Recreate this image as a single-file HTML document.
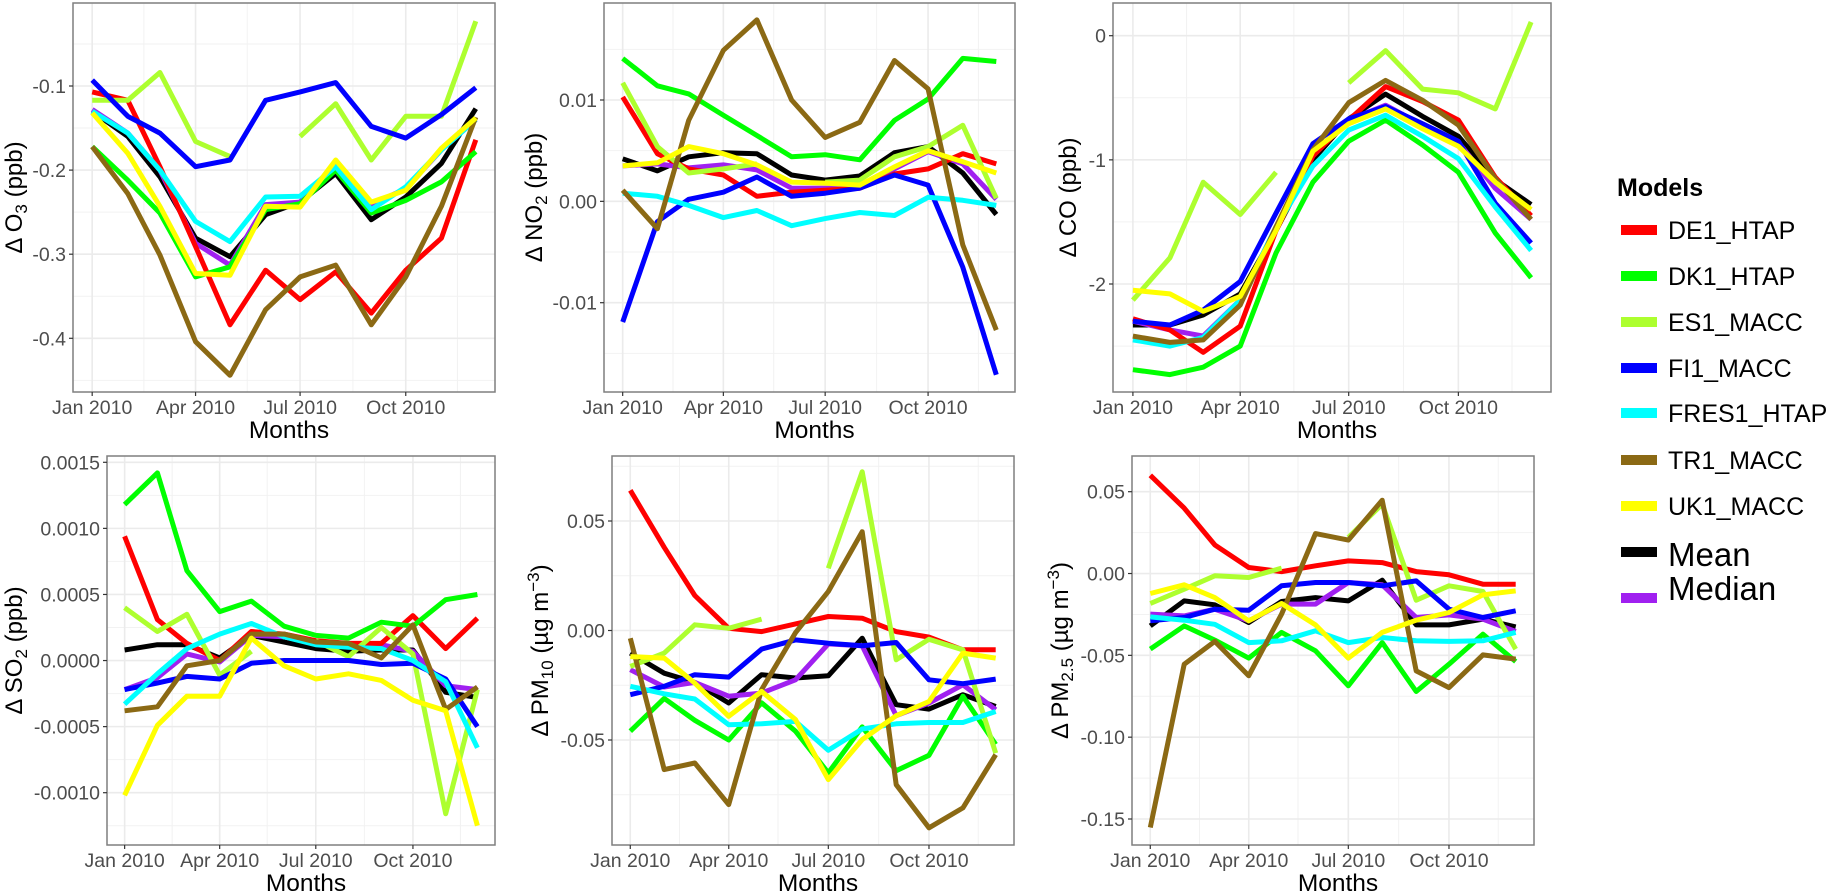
<!DOCTYPE html>
<html><head><meta charset="utf-8"><title>Model deltas</title>
<style>
html,body{margin:0;padding:0;background:#fff;}
svg{display:block;font-family:"Liberation Sans",Arial,sans-serif;}
</style></head>
<body>
<svg id="chart" width="1832" height="893" viewBox="0 0 1832 893" xmlns="http://www.w3.org/2000/svg">
<rect x="0" y="0" width="1832" height="893" fill="#fff"/>
<g id="panels"></g>
<g id="legend">
  <text x="1617" y="196" font-size="25" font-weight="bold" fill="#000">Models</text>
</g>
</svg>
<script>
const MONTHS = ["Jan","Feb","Mar","Apr","May","Jun","Jul","Aug","Sep","Oct","Nov","Dec"];
const MONTH_DAYS = [0,31,59,90,120,151,181,212,243,273,304,334];
const X_TICK_LABELS = ["Jan 2010","Apr 2010","Jul 2010","Oct 2010"];
const X_TICK_DAYS = [0,90,181,273];
const SERIES_NAMES = ["DE1_HTAP","DK1_HTAP","ES1_MACC","FI1_MACC","FRES1_HTAP","TR1_MACC","UK1_MACC","Mean","Median"];

// O3
const O3_DE1 = [-0.107,-0.117,-0.196,-0.291,-0.384,-0.319,-0.354,-0.321,-0.370,-0.319,-0.281,-0.164];
const O3_DK1 = [-0.172,-0.212,-0.251,-0.327,-0.315,-0.247,-0.240,-0.200,-0.251,-0.236,-0.214,-0.178];
const O3_ES1 = [-0.117,-0.117,-0.084,-0.166,-0.184,null,-0.160,-0.121,-0.188,-0.136,-0.136,-0.023];
const O3_FI1 = [-0.093,-0.136,-0.156,-0.196,-0.188,-0.117,-0.107,-0.096,-0.148,-0.162,-0.134,-0.102];
const O3_FRES1 = [-0.130,-0.156,-0.200,-0.261,-0.285,-0.232,-0.231,-0.196,-0.247,-0.220,-0.176,-0.140];
const O3_TR1 = [-0.172,-0.228,-0.301,-0.404,-0.444,-0.366,-0.327,-0.313,-0.384,-0.327,-0.243,-0.137];
const O3_UK1 = [-0.132,-0.180,-0.243,-0.323,-0.325,-0.243,-0.244,-0.188,-0.238,-0.224,-0.174,-0.138];
const O3_MEAN = [-0.130,-0.160,-0.208,-0.281,-0.303,-0.253,-0.238,-0.204,-0.259,-0.232,-0.192,-0.127];
const O3_MEDIAN = [-0.128,-0.156,-0.200,-0.287,-0.313,-0.241,-0.238,-0.192,-0.241,-0.222,-0.176,-0.140];
const O3_TICKS = [-0.4,-0.3,-0.2,-0.1];
const O3_TICK_LABELS = ["-0.4","-0.3","-0.2","-0.1"];

// NO2
const NO2_DE1 = [0.0103,0.0047,0.0032,0.0026,0.0005,0.0009,0.0011,0.0013,0.0027,0.0032,0.0047,0.0037];
const NO2_DK1 = [0.0141,0.0114,0.0106,0.0085,0.0065,0.0044,0.0046,0.0041,0.0080,0.0101,0.0141,0.0138];
const NO2_ES1 = [0.0117,0.0054,0.0028,0.0032,0.0037,null,0.0019,0.0021,0.0044,0.0054,0.0075,0.0003];
const NO2_FI1 = [-0.0119,-0.0020,0.0002,0.0009,0.0024,0.0005,0.0008,0.0013,0.0026,0.0016,-0.0065,-0.0171];
const NO2_FRES1 = [0.0008,0.0005,-0.0004,-0.0016,-0.0009,-0.0024,-0.0017,-0.0011,-0.0014,0.0004,0.0001,-0.0004];
const NO2_TR1 = [0.0011,-0.0027,0.0080,0.0149,0.0179,0.0100,0.0063,0.0078,0.0139,0.0111,-0.0043,-0.0127];
const NO2_UK1 = [0.0035,0.0038,0.0054,0.0047,0.0036,0.0019,0.0018,0.0016,0.0034,0.0050,0.0039,0.0028];
const NO2_MEAN = [0.0042,0.0030,0.0044,0.0048,0.0047,0.0026,0.0021,0.0025,0.0048,0.0054,0.0028,-0.0013];
const NO2_MEDIAN = [0.0035,0.0037,0.0033,0.0036,0.0031,0.0013,0.0013,0.0014,0.0032,0.0049,0.0037,0.0002];
const NO2_TICKS = [-0.01,0,0.01];
const NO2_TICK_LABELS = ["-0.01","0.00","0.01"];

// CO
const CO_DE1 = [-2.28,-2.37,-2.55,-2.34,-1.57,-0.97,-0.68,-0.41,-0.53,-0.68,-1.14,-1.45];
const CO_DK1 = [-2.69,-2.73,-2.67,-2.50,-1.75,-1.18,-0.85,-0.68,-0.88,-1.10,-1.59,-1.95];
const CO_ES1 = [-2.13,-1.79,-1.18,-1.44,-1.10,null,-0.38,-0.12,-0.43,-0.46,-0.59,0.11];
const CO_FI1 = [-2.30,-2.33,-2.21,-1.98,-1.43,-0.87,-0.67,-0.57,-0.71,-0.85,-1.35,-1.67];
const CO_FRES1 = [-2.45,-2.50,-2.43,-2.13,-1.54,-1.05,-0.76,-0.64,-0.81,-0.99,-1.38,-1.73];
const CO_TR1 = [-2.42,-2.47,-2.45,-2.17,-1.54,-0.92,-0.54,-0.36,-0.52,-0.72,-1.15,-1.48];
const CO_UK1 = [-2.05,-2.08,-2.22,-2.10,-1.57,-0.93,-0.71,-0.59,-0.75,-0.89,-1.18,-1.40];
const CO_MEAN = [-2.33,-2.33,-2.25,-2.08,-1.57,-1.00,-0.67,-0.47,-0.65,-0.81,-1.16,-1.36];
const CO_MEDIAN = [-2.30,-2.37,-2.42,-2.13,-1.54,-0.96,-0.68,-0.56,-0.72,-0.86,-1.23,-1.48];
const CO_TICKS = [-2,-1,0];
const CO_TICK_LABELS = ["-2","-1","0"];

// SO2
const SO2_DE1 = [0.00094,0.00031,0.00013,0.0,0.00022,0.00020,0.00015,0.00013,0.00013,0.00034,0.00009,0.00032];
const SO2_DK1 = [0.00118,0.00142,0.00068,0.00037,0.00045,0.00026,0.00019,0.00017,0.00029,0.00026,0.00046,0.00050];
const SO2_ES1 = [0.00040,0.00022,0.00035,-0.00011,0.00007,null,0.00015,0.00003,0.00025,0.00005,-0.00116,-0.00022];
const SO2_FI1 = [-0.00022,-0.00017,-0.00012,-0.00014,-0.00002,0.0,0.0,0.0,-0.00003,-0.00002,-0.00014,-0.00050];
const SO2_FRES1 = [-0.00033,-0.00010,0.00009,0.00020,0.00028,0.00018,0.00012,0.00010,0.00009,0.0,-0.00016,-0.00066];
const SO2_TR1 = [-0.00038,-0.00035,-0.00004,0.0,0.00020,0.00020,0.00014,0.00013,0.00002,0.00027,-0.00037,-0.00020];
const SO2_UK1 = [-0.00102,-0.00049,-0.00027,-0.00027,0.00017,-0.00004,-0.00014,-0.00010,-0.00015,-0.00030,-0.00038,-0.00125];
const SO2_MEAN = [0.00008,0.00012,0.00012,0.00002,0.00019,0.00014,0.00009,0.00007,0.00008,0.00008,-0.00024,-0.00028];
const SO2_MEDIAN = [-0.00022,-0.00013,0.00005,-0.00001,0.00019,0.00018,0.00013,0.00012,0.00012,0.00007,-0.00019,-0.00022];
const SO2_TICKS = [-0.001,-0.0005,0,0.0005,0.001,0.0015];
const SO2_TICK_LABELS = ["-0.0010","-0.0005","0.0000","0.0005","0.0010","0.0015"];

// PM10
const PM10_DE1 = [0.064,0.038,0.016,0.001,-0.0005,0.003,0.0064,0.0056,-0.0005,-0.003,-0.0088,-0.0088];
const PM10_DK1 = [-0.046,-0.031,-0.041,-0.050,-0.033,-0.046,-0.065,-0.044,-0.064,-0.057,-0.030,-0.052];
const PM10_ES1 = [-0.0164,-0.0103,0.0026,0.001,0.0052,null,0.0284,0.0725,-0.0134,-0.004,-0.0088,-0.056];
const PM10_FI1 = [-0.0293,-0.0255,-0.0202,-0.0213,-0.0085,-0.0043,-0.0058,-0.007,-0.0055,-0.0225,-0.0243,-0.0222];
const PM10_FRES1 = [-0.0255,-0.0289,-0.0313,-0.043,-0.0426,-0.0415,-0.0547,-0.045,-0.0426,-0.042,-0.042,-0.037];
const PM10_TR1 = [-0.0035,-0.0635,-0.0605,-0.0795,-0.027,-0.001,0.0178,0.0451,-0.0704,-0.0901,-0.081,-0.0567];
const PM10_UK1 = [-0.0119,-0.0126,-0.024,-0.0392,-0.0278,-0.0407,-0.0681,-0.0498,-0.0389,-0.0324,-0.0103,-0.0126];
const PM10_MEAN = [-0.0103,-0.0195,-0.0237,-0.0331,-0.0202,-0.0217,-0.0207,-0.0035,-0.0339,-0.0359,-0.0293,-0.0347];
const PM10_MEDIAN = [-0.0179,-0.0258,-0.0237,-0.030,-0.0286,-0.0225,-0.0061,-0.007,-0.0389,-0.0331,-0.0248,-0.0362];
const PM10_TICKS = [-0.05,0,0.05];
const PM10_TICK_LABELS = ["-0.05","0.00","0.05"];

// PM2.5
const PM25_DE1 = [0.060,0.040,0.0175,0.0037,0.0012,0.0047,0.0077,0.0067,0.0012,-0.0008,-0.0065,-0.0065];
const PM25_DK1 = [-0.0462,-0.032,-0.0407,-0.0517,-0.036,-0.0472,-0.0686,-0.0422,-0.0721,-0.0554,-0.0371,-0.0538];
const PM25_ES1 = [-0.0183,-0.0096,-0.0014,-0.0024,0.0033,null,0.022,0.0424,-0.0163,-0.0075,-0.011,-0.0462];
const PM25_FI1 = [-0.0289,-0.0269,-0.0218,-0.0224,-0.0075,-0.0055,-0.0055,-0.0075,-0.0045,-0.0218,-0.0269,-0.0228];
const PM25_FRES1 = [-0.0265,-0.0285,-0.031,-0.0422,-0.0411,-0.035,-0.0422,-0.0391,-0.0411,-0.0415,-0.0411,-0.036];
const PM25_TR1 = [-0.1552,-0.0554,-0.0415,-0.0625,-0.0248,0.0244,0.0204,0.0448,-0.0595,-0.0697,-0.0497,-0.0523];
const PM25_UK1 = [-0.0122,-0.0069,-0.0147,-0.0289,-0.0183,-0.0314,-0.0517,-0.036,-0.0285,-0.0238,-0.013,-0.0106];
const PM25_MEAN = [-0.032,-0.0167,-0.0191,-0.0299,-0.0171,-0.0147,-0.0167,-0.0041,-0.0314,-0.0314,-0.0279,-0.0326];
const PM25_MEDIAN = [-0.0248,-0.0259,-0.0218,-0.0289,-0.0187,-0.0187,-0.0055,-0.0069,-0.0269,-0.0253,-0.0279,-0.0354];
const PM25_TICKS = [-0.15,-0.1,-0.05,0,0.05];
const PM25_TICK_LABELS = ["-0.15","-0.10","-0.05","0.00","0.05"];

const COLORS = ["#FF0000","#00FF00","#ADFF2F","#0000FF","#00FFFF","#8B6914","#FFFF00","#000000","#A020F0"];
const DRAW_ORDER = [7,8,0,1,2,3,4,5,6];

const NS = "http://www.w3.org/2000/svg";
function mk(tag, attrs, parent){
  const e = document.createElementNS(NS, tag);
  for (const k in attrs) e.setAttribute(k, attrs[k]);
  if (parent) parent.appendChild(e);
  return e;
}

const PANELS = [
  {key:"o3", L:73,T:3,R:495,B:392, v1:-0.1,y1:86,v2:-0.4,y2:338.3, ticks:O3_TICKS, labels:O3_TICK_LABELS, titleX:14, species:"O", sub:"3", unit:"ppb", sup:null,
   series:[O3_DE1,O3_DK1,O3_ES1,O3_FI1,O3_FRES1,O3_TR1,O3_UK1,O3_MEAN,O3_MEDIAN]},
  {key:"no2", L:604,T:3,R:1015,B:392, v1:0.01,y1:100,v2:-0.01,y2:302.7, ticks:NO2_TICKS, labels:NO2_TICK_LABELS, titleX:534, species:"NO", sub:"2", unit:"ppb", sup:null,
   series:[NO2_DE1,NO2_DK1,NO2_ES1,NO2_FI1,NO2_FRES1,NO2_TR1,NO2_UK1,NO2_MEAN,NO2_MEDIAN]},
  {key:"co", L:1113,T:3,R:1551,B:392, v1:0,y1:35.7,v2:-2,y2:284, ticks:CO_TICKS, labels:CO_TICK_LABELS, titleX:1068, species:"CO", sub:null, unit:"ppb", sup:null,
   series:[CO_DE1,CO_DK1,CO_ES1,CO_FI1,CO_FRES1,CO_TR1,CO_UK1,CO_MEAN,CO_MEDIAN]},
  {key:"so2", L:107,T:456,R:495,B:845, v1:0.0015,y1:462.3,v2:-0.001,y2:792.7, ticks:SO2_TICKS, labels:SO2_TICK_LABELS, titleX:14, species:"SO", sub:"2", unit:"ppb", sup:null,
   series:[SO2_DE1,SO2_DK1,SO2_ES1,SO2_FI1,SO2_FRES1,SO2_TR1,SO2_UK1,SO2_MEAN,SO2_MEDIAN]},
  {key:"pm10", L:612,T:456,R:1014,B:845, v1:0.05,y1:521,v2:-0.05,y2:740, ticks:PM10_TICKS, labels:PM10_TICK_LABELS, titleX:540, species:"PM", sub:"10", unit:"µg m", sup:"−3",
   series:[PM10_DE1,PM10_DK1,PM10_ES1,PM10_FI1,PM10_FRES1,PM10_TR1,PM10_UK1,PM10_MEAN,PM10_MEDIAN]},
  {key:"pm25", L:1132,T:456,R:1534,B:845, v1:0.05,y1:491.7,v2:-0.15,y2:819, ticks:PM25_TICKS, labels:PM25_TICK_LABELS, titleX:1060, species:"PM", sub:"2.5", unit:"µg m", sup:"−3",
   series:[PM25_DE1,PM25_DK1,PM25_ES1,PM25_FI1,PM25_FRES1,PM25_TR1,PM25_UK1,PM25_MEAN,PM25_MEDIAN]}
];

function xAt(p, day){ return p.L + (day + 16.7) / 367.4 * (p.R - p.L); }
function yAt(p, v){ return p.y1 + (v - p.v1) * (p.y2 - p.y1) / (p.v2 - p.v1); }

const root = document.getElementById("panels");
PANELS.forEach(function(p){
  const g = mk("g", {}, root);
  
  
  mk("rect", {x:p.L, y:p.T, width:p.R-p.L, height:p.B-p.T, fill:"#fff"}, g);
  const clipId = "clip-" + p.key;
  const cp = mk("clipPath", {id:clipId}, g);
  mk("rect", {x:p.L, y:p.T, width:p.R-p.L, height:p.B-p.T}, cp);
  // minor y grid
  const step = p.ticks[1] - p.ticks[0];
  for (let v = p.ticks[0] - step*2.5; v <= p.ticks[p.ticks.length-1] + step*2.5; v += step){
    const y = yAt(p, v);
    if (y > p.T && y < p.B) mk("line", {x1:p.L, x2:p.R, y1:y, y2:y, stroke:"#f2f2f2", "stroke-width":1}, g);
  }
  // minor x grid
  const minorDays = [-45,45,135,227,318];
  minorDays.forEach(function(d){
    const x = xAt(p, d);
    if (x > p.L && x < p.R) mk("line", {x1:x, x2:x, y1:p.T, y2:p.B, stroke:"#f2f2f2", "stroke-width":1}, g);
  });
  // major grid
  p.ticks.forEach(function(v){
    const y = yAt(p, v);
    mk("line", {x1:p.L, x2:p.R, y1:y, y2:y, stroke:"#ebebeb", "stroke-width":1.6}, g);
  });
  X_TICK_DAYS.forEach(function(d){
    const x = xAt(p, d);
    mk("line", {x1:x, x2:x, y1:p.T, y2:p.B, stroke:"#ebebeb", "stroke-width":1.6}, g);
  });
  // series lines
  const lg = mk("g", {"clip-path":"url(#"+clipId+")"}, g);
  DRAW_ORDER.forEach(function(si){
    const data = p.series[si];
    let d = "", pen = false;
    data.forEach(function(v, i){
      if (v === null){ pen = false; return; }
      d += (pen ? "L" : "M") + xAt(p, MONTH_DAYS[i]).toFixed(1) + "," + yAt(p, v).toFixed(1);
      pen = true;
    });
    const path = mk("path", {d:d, fill:"none", stroke:COLORS[si], "stroke-width":5, "stroke-linejoin":"round"}, lg);
    
    
  });
  // border
  mk("rect", {x:p.L, y:p.T, width:p.R-p.L, height:p.B-p.T, fill:"none", stroke:"#7f7f7f", "stroke-width":1.5}, g);
  // y ticks
  p.ticks.forEach(function(v, i){
    const y = yAt(p, v);
    mk("line", {x1:p.L-4, x2:p.L, y1:y, y2:y, stroke:"#333", "stroke-width":1.2}, g);
    const t = mk("text", {x:p.L-7, y:y+7, "text-anchor":"end", "font-size":19.5, fill:"#4d4d4d"}, g);
    t.textContent = p.labels[i];
    
    
  });
  // x ticks
  X_TICK_DAYS.forEach(function(d, i){
    const x = xAt(p, d);
    mk("line", {x1:x, x2:x, y1:p.B, y2:p.B+4, stroke:"#333", "stroke-width":1.2}, g);
    const t = mk("text", {x:x, y:p.B+22, "text-anchor":"middle", "font-size":19.5, fill:"#4d4d4d"}, g);
    t.textContent = X_TICK_LABELS[i];
    
    
  });
  // x title
  const xt = mk("text", {x:(p.L+p.R)/2 + 5, y:p.B+46, "text-anchor":"middle", "font-size":24.5, fill:"#000"}, g);
  xt.textContent = "Months";
  
  
  // y title
  const cy = (p.T + p.B) / 2;
  const yt = mk("text", {x:0, y:0, "text-anchor":"middle", "font-size":24, fill:"#000",
    transform:"translate(" + (p.titleX + 8) + "," + cy + ") rotate(-90)"}, g);
  
  
  const a = mk("tspan", {}, yt); a.textContent = "Δ " + p.species;
  if (p.sub){ const s = mk("tspan", {"font-size":17, dy:5}, yt); s.textContent = p.sub;
    const r = mk("tspan", {dy:-5}, yt); r.textContent = " (" + p.unit; }
  else { const r = mk("tspan", {}, yt); r.textContent = " (" + p.unit; }
  if (p.sup){ const s = mk("tspan", {"font-size":17, dy:-9}, yt); s.textContent = p.sup;
    const r = mk("tspan", {dy:9}, yt); r.textContent = ")"; }
  else { const r = mk("tspan", {}, yt); r.textContent = ")"; }
});

// legend
const legend = document.getElementById("legend");
const LEG_Y = [230,276,322,368,413,460,506,552,598];
SERIES_NAMES.forEach(function(n, i){
  const item = mk("g", {}, legend);
  
  
  mk("rect", {x:1621, y:LEG_Y[i]-5, width:36, height:10, fill:COLORS[i]}, item);
  const big = i >= 7;
  const ty = big ? (i === 7 ? LEG_Y[i] + 14 : LEG_Y[i] + 2) : LEG_Y[i] + 9;
  const t = mk("text", {x:1668, y:ty, "font-size": big ? 33 : 25, fill:"#000"}, item);
  t.textContent = n;
});
</script>
</body></html>
